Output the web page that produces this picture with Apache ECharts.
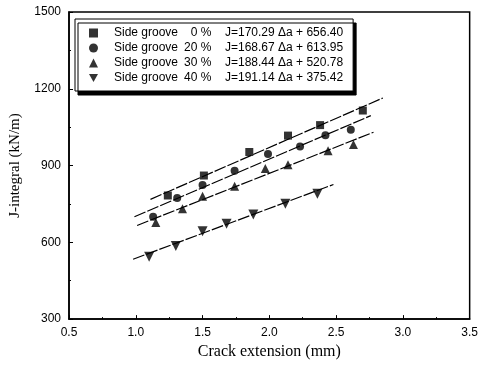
<!DOCTYPE html>
<html>
<head>
<meta charset="utf-8">
<script src="https://cdn.jsdelivr.net/npm/echarts@6/dist/echarts.min.js"></script>
<style>html,body{margin:0;padding:0;background:#fff}#c{width:481px;height:365px}</style>
</head>
<body>
<div id="c"></div>
<script>
// Data
const grooves = ['0 %', '20 %', '30 %', '40 %'];
const equations = ['J=170.29 \u0394a + 656.40', 'J=168.67 \u0394a + 613.95', 'J=188.44 \u0394a + 520.78', 'J=191.14 \u0394a + 375.42'];
const g0 = [[1.24, 783], [1.51, 861], [1.85, 953], [2.14, 1017], [2.38, 1058], [2.70, 1115]];
const g20 = [[1.13, 700], [1.31, 773], [1.50, 824], [1.74, 880], [1.99, 945], [2.23, 974], [2.42, 1018], [2.61, 1040]];
const g30 = [[1.15, 677], [1.35, 731], [1.50, 780], [1.74, 819], [1.97, 888], [2.14, 903], [2.44, 958], [2.63, 982]];
const g40 = [[1.10, 544], [1.30, 586], [1.50, 643], [1.68, 673], [1.88, 709], [2.12, 751], [2.36, 790]];
// fitted line end points
const fit0 = [[1.11, 768], [2.85, 1164]];
const fit20 = [[0.99, 700], [2.76, 1095]];
const fit30 = [[1.01, 666], [2.78, 1030]];
const fit40 = [[0.98, 534], [2.48, 826]];
const xTicks = [0.5, 1.0, 1.5, 2.0, 2.5, 3.0, 3.5];
const yTicks = [300, 600, 900, 1200, 1500];

const sans = "'Liberation Sans', Arial, sans-serif";
const serif = "'Liberation Serif', 'Times New Roman', serif";
const names = grooves.map(g => 'Side groove ' + g);
const symbols = ['rect', 'circle', 'triangle', 'triangle'];
const rotates = [0, 0, 0, 180];
const sizes = [8, 8, 9, 10];
const pts = [g0, g20, g30, g40];
const fits = [fit0, fit20, fit30, fit40];

const series = [];
pts.forEach((d, i) => {
  series.push({
    name: names[i], type: 'scatter', data: d, symbol: symbols[i], symbolRotate: rotates[i],
    symbolSize: sizes[i], itemStyle: { color: '#000' }, z: 3
  });
});
fits.forEach((d, i) => {
  series.push({
    type: 'line', data: d, symbol: 'none', silent: true, z: 2,
    lineStyle: { color: '#000', width: 1.2, type: [12, 2] }
  });
});

const chart = echarts.init(document.getElementById('c'), null, { renderer: 'canvas' });
chart.setOption({
  animation: false,
  backgroundColor: '#fff',
  grid: { left: 68, right: 7, top: 12, bottom: 45, show: true, borderColor: '#000', borderWidth: 1.5, backgroundColor: 'transparent' },
  legend: {
    orient: 'vertical', left: 75, top: 19,
    padding: [7, 10, 6, 14],
    itemWidth: 9, itemHeight: 9, itemGap: 1,
    backgroundColor: '#fff', borderColor: '#000', borderWidth: 1,
    shadowColor: '#000', shadowBlur: 0, shadowOffsetX: 3, shadowOffsetY: 4,
    data: names.map((n, i) => ({ name: n, icon: i === 3 ? 'path://M0,0 L10,0 L5,9 Z' : symbols[i] })),
    itemStyle: { color: '#000' },
    formatter: function (n) {
      const i = names.indexOf(n);
      const pct = grooves[i].length < 4 ? '  ' + grooves[i] : grooves[i];
      return '{n|Side groove}{p|' + pct + '}{e|' + equations[i] + '}';
    },
    textStyle: {
      fontFamily: sans, fontSize: 12, color: '#000', lineHeight: 14,
      rich: {
        n: { fontFamily: sans, fontSize: 12, color: '#000', width: 70, padding: [0, 0, 0, 11] },
        p: { fontFamily: sans, fontSize: 12, color: '#000', width: 41 },
        e: { fontFamily: sans, fontSize: 12, color: '#000' }
      }
    }
  },
  xAxis: {
    type: 'value', min: 0.5, max: 3.5, interval: 0.5,
    name: 'Crack extension (mm)', nameLocation: 'middle', nameGap: 23,
    nameTextStyle: { fontFamily: serif, fontSize: 16, color: '#000' },
    axisLine: { lineStyle: { color: '#000', width: 1.5 } },
    axisTick: { inside: true, length: 4, lineStyle: { color: '#000', width: 1 } },
    minorTick: { show: true, splitNumber: 2, length: 2, lineStyle: { color: '#000', width: 1 } },
    splitLine: { show: false },
    axisLabel: { fontFamily: sans, fontSize: 12, color: '#000', margin: 8, formatter: v => xTicks.includes(v) ? v.toFixed(1) : '' }
  },
  yAxis: {
    type: 'value', min: 300, max: 1500, interval: 300,
    name: 'J-integral (kN/m)', nameLocation: 'middle', nameGap: 46,
    nameTextStyle: { fontFamily: serif, fontSize: 15, color: '#000' },
    axisLine: { lineStyle: { color: '#000', width: 1.5 } },
    axisTick: { inside: true, length: 4, lineStyle: { color: '#000', width: 1 } },
    minorTick: { show: true, splitNumber: 2, length: 2, lineStyle: { color: '#000', width: 1 } },
    splitLine: { show: false },
    axisLabel: { fontFamily: sans, fontSize: 12, color: '#000', margin: 8, formatter: v => yTicks.includes(v) ? String(v) : '' }
  },
  series: series
});
</script>
</body>
</html>
